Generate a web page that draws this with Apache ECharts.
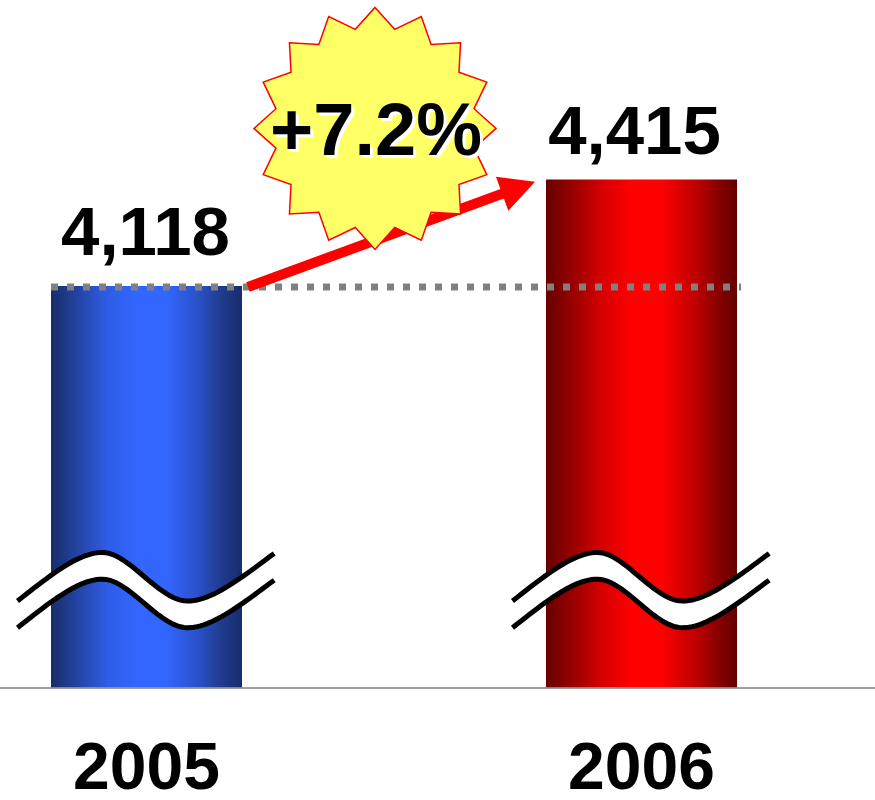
<!DOCTYPE html>
<html><head><meta charset="utf-8">
<script src="https://cdn.jsdelivr.net/npm/echarts/dist/echarts.min.js"></script>
<style>html,body{margin:0;padding:0;background:#fff}#c{width:875px;height:800px}</style>
</head><body><div id="c"></div>
<script>
// ---- data ----
const years = ['2005', '2006'];
const sales = [4118, 4415];
const growthLabel = '+7.2%';
const axisMin = 3000;
const axisMax = 4900;
const breakValue = 3308; // where the axis-break marks sit

// ---- styles ----
const FONT = '"Liberation Sans", Arial, sans-serif';
const BAR_W = 191;
const barGrads = [
  new echarts.graphic.LinearGradient(0, 0, 1, 0, [
    {offset: 0, color: '#182c6c'}, {offset: 0.08, color: '#1f3a8a'},
    {offset: 0.3, color: '#2f5de8'}, {offset: 0.45, color: '#3366ff'},
    {offset: 0.6, color: '#3366ff'}, {offset: 0.76, color: '#2a52cc'},
    {offset: 0.9, color: '#1f3a8a'}, {offset: 1, color: '#182c6c'}]),
  new echarts.graphic.LinearGradient(0, 0, 1, 0, [
    {offset: 0, color: '#680000'}, {offset: 0.1, color: '#8a0000'},
    {offset: 0.3, color: '#d80000'}, {offset: 0.45, color: '#ff0000'},
    {offset: 0.6, color: '#ff0000'}, {offset: 0.78, color: '#c00000'},
    {offset: 0.92, color: '#800000'}, {offset: 1, color: '#640000'}])
];
const labelOffsets = [[-1, -8], [-7, -2]];

const chart = echarts.init(document.getElementById('c'), null, {renderer: 'canvas'});
chart.setOption({
  animation: false,
  backgroundColor: '#ffffff',
  grid: {left: -101, right: -14, top: 5.3, bottom: 112.7, containLabel: false, outerBoundsMode: 'none'},
  xAxis: {
    type: 'category', data: years,
    axisLine: {lineStyle: {color: '#808080', width: 1.5}},
    axisTick: {show: false},
    axisLabel: {fontSize: 66, fontWeight: 'bold', color: '#000', fontFamily: FONT, margin: 50}
  },
  yAxis: {type: 'value', min: axisMin, max: axisMax, show: false, splitLine: {show: false}},
  series: [{
    type: 'bar', barWidth: BAR_W, z: 2,
    data: sales.map((v, i) => ({value: v, itemStyle: {color: barGrads[i]}, label: {offset: labelOffsets[i]}})),
    label: {
      show: true, position: 'top', distance: 8,
      fontSize: 69, fontWeight: 'bold', color: '#000', fontFamily: FONT,
      formatter: p => p.value.toLocaleString('en-US')
    }
  }]
});

// ---- annotations positioned from the axes ----
const p0 = chart.convertToPixel({gridIndex: 0}, [0, sales[0]]);
const p1 = chart.convertToPixel({gridIndex: 0}, [1, sales[1]]);
const half = BAR_W / 2;
const g = [];

// dotted reference line at 2005 level
g.push({type: 'line', z: 10, shape: {x1: p0[0] - half, y1: p0[1] + 1, x2: p1[0] + half + 4, y2: p0[1] + 1},
  style: {stroke: '#808080', lineWidth: 7, lineDash: [7, 9], lineCap: 'butt'}});

// arrow
(function () {
  const tail = [p0[0] + half + 6, p0[1] + 1];
  const tip = [p1[0] - half - 11, p1[1] + 2.3];
  const dx = tip[0] - tail[0], dy = tip[1] - tail[1];
  const L = Math.hypot(dx, dy), ux = dx / L, uy = dy / L, nx = -uy, ny = ux;
  const hb = [tip[0] - ux * 35, tip[1] - uy * 35];
  const sw = 5, hw = 18;
  g.push({type: 'polygon', z: 11, shape: {points: [
    [tail[0] + nx * sw, tail[1] + ny * sw], [hb[0] + nx * sw, hb[1] + ny * sw],
    [hb[0] + nx * hw, hb[1] + ny * hw], tip,
    [hb[0] - nx * hw, hb[1] - ny * hw], [hb[0] - nx * sw, hb[1] - ny * sw],
    [tail[0] - nx * sw, tail[1] - ny * sw]]},
    style: {fill: '#ff0000'}});
})();

// starburst
(function () {
  const cx = p0[0] + 228.5, cy = p1[1] - 51;
  const pts = [];
  for (let k = 0; k < 32; k++) {
    const a = k * Math.PI / 16 - Math.PI / 2;
    const r = k % 2 === 0 ? 121 : 101;
    pts.push([cx + r * Math.cos(a), cy + r * Math.sin(a)]);
  }
  g.push({type: 'polygon', z: 12, shape: {points: pts}, style: {fill: '#ffff66', stroke: '#ff0000', lineWidth: 1.5}});
  const ts = {text: growthLabel, fontSize: 74, fontWeight: 'bold', fontFamily: FONT, textAlign: 'center', textVerticalAlign: 'middle'};
  g.push({type: 'text', z: 13, x: cx + 4, y: cy + 9, style: Object.assign({}, ts, {fill: '#ffffff'})});
  g.push({type: 'text', z: 14, x: cx + 1, y: cy + 6, style: Object.assign({}, ts, {fill: '#000000'})});
})();

// axis-break wave marks
function cubic(a, b, c, d, n) {
  const out = [];
  for (let i = 0; i <= n; i++) {
    const t = i / n, m = 1 - t;
    out.push([m*m*m*a[0] + 3*m*m*t*b[0] + 3*m*t*t*c[0] + t*t*t*d[0],
              m*m*m*a[1] + 3*m*m*t*b[1] + 3*m*t*t*c[1] + t*t*t*d[1]]);
  }
  return out;
}
const waveSegs = [
  [[-129, 24.3], [-94, -3.4], [-67.3, -24.3], [-44, -24.3]],
  [[-44, -24.3], [-17.3, -24.3], [12.7, 24.3], [41, 24.3]],
  [[41, 24.3], [66, 24.3], [96, 0], [127.7, -23.3]]
];
for (let i = 0; i < years.length; i++) {
  const c = chart.convertToPixel({gridIndex: 0}, [i, breakValue]);
  let up = [];
  waveSegs.forEach((s, j) => {
    const pts = cubic(...s.map(q => [c[0] + q[0], c[1] + q[1]]), 24);
    up = up.concat(j === 0 ? pts : pts.slice(1));
  });
  const lo = up.map(q => [q[0], q[1] + 26.7]);
  g.push({type: 'polygon', z: 15, shape: {points: up.concat(lo.slice().reverse())}, style: {fill: '#ffffff'}});
  g.push({type: 'polyline', z: 16, shape: {points: up}, style: {stroke: '#000', lineWidth: 5, fill: null}});
  g.push({type: 'polyline', z: 16, shape: {points: lo}, style: {stroke: '#000', lineWidth: 5, fill: null}});
}

chart.setOption({graphic: g});
</script>
</body></html>
